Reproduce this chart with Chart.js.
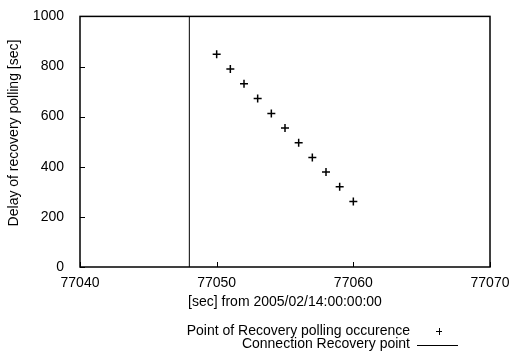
<!DOCTYPE html>
<html>
<head>
<meta charset="utf-8">
<script src="https://cdn.jsdelivr.net/npm/chart.js@4"></script>
<style>
  html, body { margin: 0; padding: 0; background: #fff; }
  canvas { display: block; }
</style>
</head>
<body>
<canvas id="chart" width="512" height="355"></canvas>
<script>
// data
const pollTimes = [77050, 77051, 77052, 77053, 77054, 77055, 77056, 77057, 77058, 77059, 77060];
const pollDelays = [849, 790, 731, 672, 613, 555, 496, 437, 379, 320, 261];
const recoveryTime = 77048;
const delayRange = [0, 1000];
const xTicks = [77040, 77050, 77060, 77070];
const yTicks = [0, 200, 400, 600, 800, 1000];
const seriesNames = ['Point of Recovery polling occurence', 'Connection Recovery point'];
const xTitle = '[sec] from 2005/02/14:00:00:00';
const yTitle = 'Delay of recovery polling [sec]';

const FONT = '"Liberation Sans", Arial, sans-serif';

// box, inward ticks, titles and the legend
const framePlugin = {
  id: 'frame',
  afterDraw(chart) {
    const { ctx, chartArea: a, scales: { x, y } } = chart;
    ctx.save();
    ctx.strokeStyle = '#000';
    ctx.fillStyle = '#000';

    ctx.lineWidth = 1;
    ctx.beginPath();
    xTicks.forEach(v => {
      const px = Math.round(x.getPixelForValue(v)) + 0.5;
      ctx.moveTo(px, a.bottom);
      ctx.lineTo(px, a.bottom - 5);
    });
    yTicks.forEach(v => {
      const py = Math.round(y.getPixelForValue(v)) + 0.5;
      ctx.moveTo(a.left, py);
      ctx.lineTo(a.left + 5, py);
    });
    ctx.stroke();

    ctx.lineWidth = 1.5;
    ctx.strokeRect(a.left, a.top, a.right - a.left, a.bottom - a.top);

    ctx.font = '14px ' + FONT;
    ctx.textBaseline = 'middle';
    ctx.textAlign = 'center';
    ctx.fillText(xTitle, (a.left + a.right) / 2, 302);

    ctx.save();
    ctx.translate(14, 133);
    ctx.rotate(-Math.PI / 2);
    ctx.fillText(yTitle, 0, 0);
    ctx.restore();

    // legend
    ctx.textAlign = 'right';
    ctx.fillText(seriesNames[0], 410, 331);
    ctx.fillText(seriesNames[1], 410, 344);
    ctx.lineWidth = 1;
    ctx.beginPath();
    ctx.moveTo(436, 331.5); ctx.lineTo(442, 331.5);
    ctx.moveTo(439.5, 328); ctx.lineTo(439.5, 335);
    ctx.moveTo(417, 345.5); ctx.lineTo(458, 345.5);
    ctx.stroke();
    ctx.restore();
  }
};

new Chart(document.getElementById('chart'), {
  type: 'scatter',
  data: {
    datasets: [
      {
        label: seriesNames[0],
        data: pollTimes.map((t, i) => ({ x: t, y: pollDelays[i] })),
        pointStyle: 'cross',
        pointRadius: 4,
        borderWidth: 1.5,
        borderColor: '#000',
        backgroundColor: '#000'
      },
      {
        label: seriesNames[1],
        data: delayRange.map(d => ({ x: recoveryTime, y: d })),
        showLine: true,
        pointRadius: 0,
        borderWidth: 1,
        borderColor: '#000'
      }
    ]
  },
  options: {
    responsive: false,
    animation: false,
    layout: { padding: { top: 11, right: 22, left: 0, bottom: 0 } },
    plugins: {
      legend: { display: false },
      tooltip: { enabled: false }
    },
    scales: {
      x: {
        type: 'linear',
        min: xTicks[0],
        max: xTicks[xTicks.length - 1],
        afterBuildTicks: s => { s.ticks = xTicks.map(v => ({ value: v })); },
        afterFit: s => { s.height = 88; },
        grid: { display: false },
        border: { display: false },
        ticks: { color: '#000', font: { size: 14, family: FONT }, padding: 0, maxRotation: 0, callback: v => String(v) }
      },
      y: {
        min: delayRange[0],
        max: delayRange[1],
        afterBuildTicks: s => { s.ticks = yTicks.map(v => ({ value: v })); },
        afterFit: s => { s.width = 80; },
        grid: { display: false },
        border: { display: false },
        ticks: { color: '#000', font: { size: 14, family: FONT }, padding: 8, callback: v => String(v) }
      }
    }
  },
  plugins: [framePlugin]
});
</script>
</body>
</html>
